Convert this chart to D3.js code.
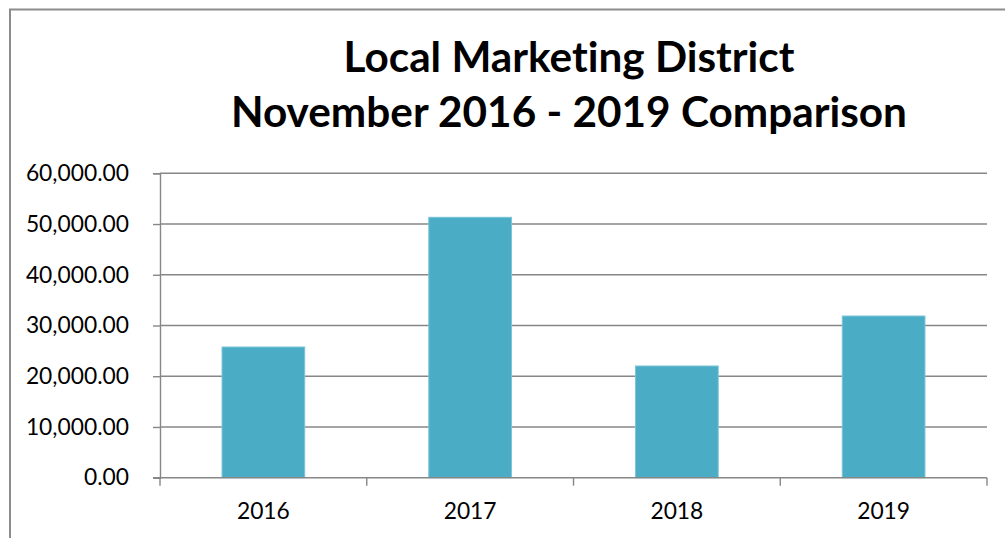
<!DOCTYPE html>
<html>
<head>
<meta charset="utf-8">
<script src="https://cdn.jsdelivr.net/npm/d3@7"></script>
<style>
  body { margin: 0; background: #fff; }
  svg { display: block; }
  text { font-variant-ligatures: none; }
</style>
</head>
<body>
<div id="chart"></div>
<script>
// data
var years = ["2016", "2017", "2018", "2019"];
var amounts = [25760, 51330, 22020, 31870];
var yTicks = [0, 10000, 20000, 30000, 40000, 50000, 60000];
var titleLines = ["Local Marketing District", "November 2016 - 2019 Comparison"];

var width = 1005,
    height = 538,
    margin = {left: 160, top: 173.3, right: 18, bottom: 60.3},
    plot_w = width - margin.left - margin.right,
    plot_h = height - margin.top - margin.bottom;

var gray = "#878787",
    barColor = "#4bacc6",
    tickFont = 22.8;

var svg = d3.select("#chart")
    .append("svg")
    .attr("width", width)
    .attr("height", height);

// outer chart border (only top and left visible)
svg.append("path")
    .attr("d", "M10," + height + "V9.5H" + width)
    .attr("fill", "none")
    .attr("stroke", "#8c8c8c")
    .attr("stroke-width", 2);

// title
var title = svg.append("g")
    .attr("font-family", "Lato, 'Open Sans', sans-serif")
    .attr("font-weight", "bold")
    .attr("fill", "#000")
    .attr("text-anchor", "middle");

title.selectAll("text")
    .data(titleLines)
    .enter()
    .append("text")
    .attr("x", 569)
    .attr("y", function (d, i) { return 72 + i * 55; })
    .attr("font-size", 38)
    .text(function (d) { return d; });

// fit first line to the width seen in the picture
var w0 = title.select("text").node().getComputedTextLength();
title.selectAll("text").attr("font-size", 38 * 451 / w0);

var scale_x = d3.scaleBand()
    .domain(years)
    .range([0, plot_w])
    .paddingInner(0.6)
    .paddingOuter(0.3);

var scale_y = d3.scaleLinear()
    .domain([0, 60000])
    .range([plot_h, 0]);

var chart = svg.append("g")
    .attr("transform", "translate(" + margin.left + "," + margin.top + ")");

// gridlines
chart.append("g")
    .selectAll("line")
    .data(yTicks.filter(function (d) { return d > 0; }))
    .enter()
    .append("line")
    .attr("x1", 0)
    .attr("x2", plot_w)
    .attr("y1", function (d) { return scale_y(d); })
    .attr("y2", function (d) { return scale_y(d); })
    .attr("stroke", gray)
    .attr("stroke-width", 1.4);

// bars
chart.selectAll(".bar")
    .data(years)
    .enter()
    .append("rect")
    .attr("class", "bar")
    .attr("x", function (d) { return scale_x(d); })
    .attr("y", function (d, i) { return scale_y(amounts[i]); })
    .attr("width", scale_x.bandwidth())
    .attr("height", function (d, i) { return plot_h - scale_y(amounts[i]); })
    .attr("fill", barColor)
    .attr("stroke", "#7cc5d9")
    .attr("stroke-width", 1);

var fmt = d3.format(",.2f");

// y axis
var y_axis = chart.append("g")
    .call(d3.axisLeft(scale_y).tickValues(yTicks).tickFormat(fmt).tickSize(7).tickPadding(24));

y_axis.selectAll("path").attr("stroke", gray).attr("stroke-width", 1.4);
y_axis.selectAll("line").attr("stroke", gray).attr("stroke-width", 1.4);
y_axis.selectAll("text")
    .attr("font-family", "Lato, sans-serif")
    .attr("font-size", tickFont)
    .attr("fill", "#000");

// x axis: ticks on band boundaries
var x_axis = chart.append("g")
    .attr("transform", "translate(0," + plot_h + ")");

x_axis.append("line")
    .attr("x1", -7).attr("x2", plot_w)
    .attr("stroke", gray).attr("stroke-width", 1.4);

var step = scale_x.step();
x_axis.selectAll(".tick")
    .data(d3.range(years.length + 1))
    .enter()
    .append("line")
    .attr("class", "tick")
    .attr("x1", function (i) { return scale_x(years[0]) - step * 0.3 + i * step; })
    .attr("x2", function (i) { return scale_x(years[0]) - step * 0.3 + i * step; })
    .attr("y1", 0)
    .attr("y2", 8)
    .attr("stroke", gray)
    .attr("stroke-width", 1.4);

x_axis.selectAll(".label")
    .data(years)
    .enter()
    .append("text")
    .attr("class", "label")
    .attr("x", function (d) { return scale_x(d) + scale_x.bandwidth() / 2; })
    .attr("y", 41.5)
    .attr("text-anchor", "middle")
    .attr("font-family", "Lato, sans-serif")
    .attr("font-size", tickFont)
    .attr("fill", "#000")
    .text(function (d) { return d; });
</script>
</body>
</html>
